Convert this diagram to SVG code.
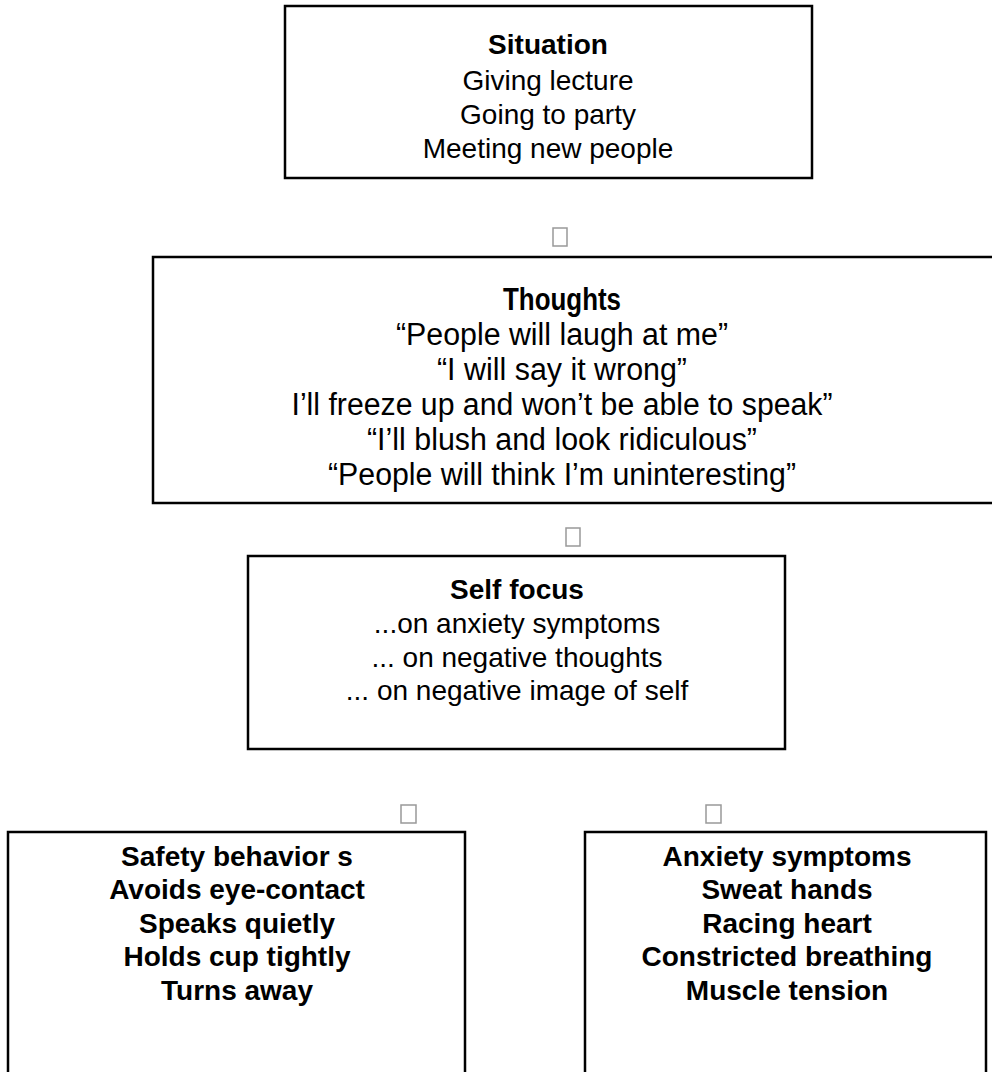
<svg xmlns="http://www.w3.org/2000/svg" width="992" height="1072" viewBox="0 0 992 1072">
<style>
.box{fill:#fff;stroke:#000;stroke-width:2.5}
text{font-family:"Liberation Sans",Arial,sans-serif;font-size:28px;fill:#000;text-anchor:middle}
.b{font-weight:bold}
.n{font-size:31px}
.glyph{fill:#fff;stroke:#999;stroke-width:1.5}
</style>
<rect width="992" height="1072" fill="#fff"/>
<g id="situation">
<rect class="box" x="285" y="6" width="527" height="172"/>
<text class="b" x="548" y="54">Situation</text>
<text x="548" y="90">Giving lecture</text>
<text x="548" y="124">Going to party</text>
<text x="548" y="158">Meeting new people</text>
</g>
<g id="thoughts">
<rect class="box" x="153" y="257" width="860" height="246"/>
<text class="b n" x="562" y="310" textLength="118" lengthAdjust="spacingAndGlyphs">Thoughts</text>
<text class="n" x="562" y="345" textLength="332" lengthAdjust="spacingAndGlyphs">“People will laugh at me”</text>
<text class="n" x="562" y="380" textLength="250" lengthAdjust="spacingAndGlyphs">“I will say it wrong”</text>
<text class="n" x="562" y="415" textLength="541" lengthAdjust="spacingAndGlyphs">I’ll freeze up and won’t be able to speak”</text>
<text class="n" x="562" y="450" textLength="390" lengthAdjust="spacingAndGlyphs">“I’ll blush and look ridiculous”</text>
<text class="n" x="562" y="485" textLength="468" lengthAdjust="spacingAndGlyphs">“People will think I’m uninteresting”</text>
</g>
<g id="selffocus">
<rect class="box" x="248" y="556" width="537" height="193"/>
<text class="b" x="517" y="599">Self focus</text>
<text x="517" y="633">...on anxiety symptoms</text>
<text x="517" y="667">... on negative thoughts</text>
<text x="517" y="700">... on negative image of self</text>
</g>
<g id="safety">
<rect class="box" x="8" y="832" width="457" height="260"/>
<text class="b" x="237" y="866">Safety behavior s</text>
<text class="b" x="237" y="899">Avoids eye-contact</text>
<text class="b" x="237" y="933">Speaks quietly</text>
<text class="b" x="237" y="966">Holds cup tightly</text>
<text class="b" x="237" y="1000">Turns away</text>
</g>
<g id="anxiety">
<rect class="box" x="585" y="832" width="401" height="260"/>
<text class="b" x="787" y="866">Anxiety symptoms</text>
<text class="b" x="787" y="899">Sweat hands</text>
<text class="b" x="787" y="933">Racing heart</text>
<text class="b" x="787" y="966">Constricted breathing</text>
<text class="b" x="787" y="1000">Muscle tension</text>
</g>
<g id="connectors">
<rect class="glyph" x="553" y="228" width="14" height="18"/>
<rect class="glyph" x="566" y="528" width="14" height="18"/>
<rect class="glyph" x="401" y="805" width="15" height="18"/>
<rect class="glyph" x="706" y="805" width="15" height="18"/>
</g>
</svg>
